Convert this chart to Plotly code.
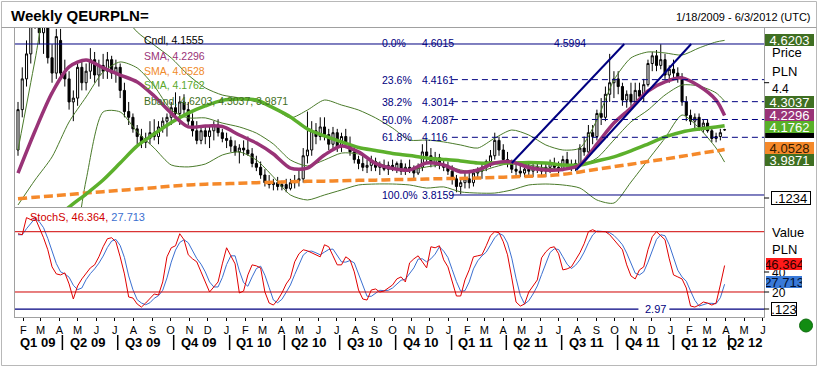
import plotly.graph_objects as go
import pandas as pd

W, H = 821, 371
FONT = "Liberation Sans, Arial, sans-serif"

# ---------------- data ----------------
first_week = "2009-01-23"
range_start, range_end = "2009-01-18", "2012-06-03"

opens = [4.05,4.26,4.42,4.55,4.72,4.78,4.66,4.70,4.53,4.45, 4.62,4.45,4.42,4.30, 4.32,4.48,4.40,4.46,4.52, 4.44,4.49,4.46,4.52, 4.45,4.48,4.36,4.25,4.22, 4.16,4.12,4.09,4.11, 4.14,4.12,4.17,4.20, 4.22,4.27,4.24,4.30,4.26, 4.20,4.15,4.10,4.15, 4.12,4.15,4.18,4.14,
         4.11,4.10,4.07,4.04,4.06, 4.05,4.03,3.98,3.96, 3.92,3.88,3.87,3.88, 3.86,3.87,3.85,3.88,3.89, 3.90,4.02,4.05,4.15, 4.12,4.17,4.13,4.08, 4.14,4.07,4.12,4.08,4.04, 4.00,3.98,3.96,3.97, 3.99,3.96,3.97,3.95, 3.97,3.95,3.98,3.94,3.96, 3.95,3.93,3.96,4.04, 4.02,3.98,4.01,3.97,3.96,
         3.94,3.90,3.86,3.88, 3.90,3.88,3.93,3.94, 3.96,3.99,4.02,4.10, 4.05,4.00,3.98,3.95,3.94, 3.93,3.95,3.94,3.96, 3.95,3.94,3.96,3.98, 3.96,3.95,4.00,3.97,3.96, 3.98,4.06,4.04,4.14, 4.12,4.24,4.22,4.34,4.40, 4.42,4.38,4.31,4.34, 4.30,4.36,4.33,4.39, 4.50,4.54,4.49,4.52,4.44,
         4.47,4.45,4.43,4.30, 4.23,4.20,4.22,4.17, 4.19,4.15,4.11,4.12,4.155]
highs = [4.30,4.48,4.62,4.80,4.93,4.80,4.75,4.72,4.60,4.68, 4.68,4.52,4.46,4.36, 4.50,4.52,4.50,4.58,4.56, 4.52,4.55,4.56,4.54, 4.52,4.50,4.40,4.30,4.24, 4.18,4.16,4.14,4.20, 4.21,4.20,4.22,4.24, 4.30,4.35,4.33,4.34,4.30, 4.24,4.20,4.18,4.17, 4.18,4.20,4.21,4.16,
         4.14,4.12,4.10,4.08,4.10, 4.12,4.06,4.02,3.99, 3.95,3.92,3.90,3.91, 3.89,3.90,3.90,3.92,3.95, 4.06,4.25,4.20,4.19, 4.22,4.22,4.16,4.17, 4.16,4.14,4.16,4.12,4.07, 4.02,4.02,4.00,4.02, 4.01,3.99,4.00,3.99, 4.00,3.99,4.00,3.98,4.00, 3.97,3.98,4.08,4.10, 4.06,4.04,4.03,4.00,3.99,
         3.97,3.92,3.90,3.93, 3.94,3.95,3.96,3.98, 4.00,4.05,4.14,4.12, 4.08,4.04,4.00,3.98,3.97, 3.97,3.99,3.98,3.99, 3.98,3.98,4.00,4.01, 3.99,4.02,4.04,4.00,4.00, 4.08,4.12,4.18,4.18, 4.26,4.32,4.38,4.55,4.46, 4.46,4.40,4.36,4.40, 4.40,4.40,4.42,4.52, 4.56,4.57,4.60,4.55,4.49,
         4.52,4.48,4.45,4.33, 4.26,4.24,4.24,4.21, 4.21,4.16,4.14,4.16,4.16]
lows = [4.02,4.22,4.38,4.50,4.68,4.60,4.55,4.50,4.40,4.42, 4.42,4.38,4.26,4.20, 4.28,4.36,4.36,4.42,4.40, 4.38,4.42,4.42,4.42, 4.40,4.32,4.22,4.18,4.14, 4.08,4.06,4.06,4.08, 4.10,4.08,4.14,4.12, 4.18,4.22,4.18,4.22,4.18, 4.12,4.08,4.08,4.08, 4.06,4.10,4.12,4.09,
        4.06,4.04,4.02,3.98,4.02, 4.02,3.96,3.94,3.90, 3.86,3.85,3.84,3.84, 3.84,3.83,3.84,3.85,3.86, 3.88,3.98,4.02,4.08, 4.10,4.10,4.05,4.06, 4.04,4.04,4.06,4.02,3.98, 3.95,3.94,3.93,3.94, 3.94,3.92,3.94,3.92, 3.94,3.93,3.92,3.92,3.93, 3.90,3.92,3.94,3.98, 3.96,3.96,3.95,3.94,3.92,
        3.87,3.83,3.82,3.85, 3.85,3.86,3.90,3.90, 3.94,3.96,4.00,4.02, 3.98,3.96,3.93,3.92,3.91, 3.91,3.92,3.91,3.93, 3.92,3.91,3.93,3.94, 3.93,3.94,3.95,3.94,3.94, 3.96,4.02,4.02,4.08, 4.10,4.18,4.20,4.30,4.32, 4.34,4.28,4.27,4.28, 4.28,4.31,4.30,4.38, 4.46,4.46,4.47,4.42,4.40,
        4.42,4.40,4.28,4.20, 4.18,4.16,4.15,4.14, 4.14,4.09,4.09,4.10,4.15]
closes = [4.26,4.42,4.55,4.72,4.78,4.66,4.70,4.53,4.45,4.64, 4.45,4.42,4.30,4.32, 4.48,4.40,4.46,4.52,4.44, 4.49,4.46,4.52,4.45, 4.48,4.36,4.25,4.22,4.16, 4.12,4.09,4.11,4.14, 4.12,4.17,4.20,4.22, 4.27,4.24,4.30,4.26,4.20, 4.15,4.10,4.15,4.12, 4.15,4.18,4.14,4.11,
          4.10,4.07,4.04,4.06,4.05, 4.03,3.98,3.96,3.92, 3.88,3.87,3.88,3.86, 3.87,3.85,3.88,3.89,3.90, 4.02,4.05,4.15,4.12, 4.17,4.13,4.08,4.14, 4.07,4.12,4.08,4.04,4.00, 3.98,3.96,3.97,3.99, 3.96,3.97,3.95,3.97, 3.95,3.98,3.94,3.96,3.95, 3.93,3.96,4.04,4.02, 3.98,4.01,3.97,3.96,3.94,
          3.90,3.86,3.88,3.90, 3.88,3.93,3.94,3.96, 3.99,4.02,4.10,4.05, 4.00,3.98,3.95,3.94,3.93, 3.95,3.94,3.96,3.95, 3.94,3.96,3.98,3.96, 3.95,4.00,3.97,3.96,3.98, 4.06,4.04,4.14,4.12, 4.24,4.22,4.34,4.40,4.42, 4.38,4.31,4.34,4.30, 4.36,4.33,4.39,4.50, 4.54,4.49,4.52,4.44,4.47,
          4.45,4.43,4.30,4.23, 4.20,4.22,4.17,4.19, 4.15,4.11,4.12,4.14,4.1555]

stoch_k = [78,77,94,92,94,84,74,62,45,38, 37,39,28,13,26,33,38,44,47,55, 65,73,74,70,55,38,15,14,8,5,
           9,14,18,17,30,55,64,66,78,72, 57,53,50,40,30,20,25,30,48,64, 56,48,19,21,37,47,46,44,20,9,
           7,12,19,28,34,50,58,62,61,59, 57,55,67,65,56,47,47,55,52,40, 22,13,12,22,23,20,21,24,27,33,
           35,30,49,53,56,50,44,65,64,66, 52,45,30,16,16,32,42,55,56,57, 66,76,80,79,70,57,34,10,6,8,
           20,26,32,54,60,64,65,58,42,43, 45,52,59,68,80,82,80,80,80,77, 72,67,62,47,36,33,42,45,62,75,
           80,76,72,53,37,35,33,24,6,5, 7,10,9,7,9,27,46.364]
stoch_d = [77,77,83,87.7,93.3,90,84,73.3,60.3,48.3, 40,38,34.7,26.7,22.3,24,32.3,38.3,43,48.7,
           55.7,64.3,70.7,72.3,66.3,54.3,36,22.3,12.3,9, 7.3,9.3,13.7,16.3,21.7,34,49.7,61.7,69.3,72,
           69,60.7,53.3,47.7,40,30,25,25,34.3,47.3, 56,56,41,29.3,25.7,35,43.3,45.7,36.7,24.3,
           12,9.3,12.7,19.7,27,37.3,47.3,56.7,60.3,60.7, 59,57,59.7,62.3,62.7,56,50,49.7,51.3,49,
           38,25,15.7,15.7,19,21.7,21.3,21.7,24,28, 31.7,32.7,38,44,52.7,53,50,53,57.7,65,
           60.7,54.3,42.3,30.3,20.7,21.3,30,43,51,56, 59.7,66.3,74,78.3,76.3,68.7,53.7,33.7,16.7,8,
           11.3,18,26,37.3,48.7,59.3,63,62.3,55,47.7, 43.3,46.7,52,59.7,69,76.7,80.7,80.7,80,79,
           76.3,72,67,58.7,48.3,38.7,37,40,49.7,60.7, 72.3,77,76,67,54,41.7,35,30.7,21,11.7,
           6,7.3,8.7,8.7,8.3,14.3,27.713]

# indicator lines read every 4th week (plus the last week)
sma_purple = [3.930,4.149,4.347,4.482,4.518,4.477,4.440,4.404,4.331,4.242, 4.170,4.175,4.172,4.128,4.086,4.029,3.956,3.956,4.024,4.071,
              4.040,3.980,3.954,3.946,3.982,3.972,3.936,3.946,3.982,3.988, 3.959,3.946,3.949,3.972,4.081,4.190,4.269,4.357,4.404,4.425,
              4.383,4.310,4.2296]
sma_green = [3.540,3.608,3.675,3.753,3.821,3.894,3.982,4.071,4.133,4.193, 4.242,4.279,4.308,4.315,4.310,4.269,4.222,4.159,4.123,4.092,
             4.063,4.047,4.032,4.021,4.008,4.001,3.993,3.982,3.982,3.982, 3.985,3.982,3.972,3.972,3.993,4.014,4.045,4.081,4.118,4.144,
             4.159,4.170,4.1762]
sma_orange = [3.796,3.804,3.811,3.818,3.826,3.833,3.840,3.847,3.854,3.862, 3.868,3.872,3.874,3.877,3.880,3.882,3.885,3.887,3.888,3.890,
              3.892,3.893,3.896,3.897,3.899,3.901,3.902,3.904,3.907,3.910, 3.913,3.916,3.923,3.936,3.950,3.963,3.976,3.990,4.003,4.017,
              4.032,4.045,4.0528]
bb_upper = [4.050,4.518,4.987,5.143,5.143,4.987,4.778,4.664,4.596,4.529, 4.440,4.373,4.336,4.321,4.300,4.269,4.217,4.258,4.310,4.284,
            4.258,4.217,4.164,4.102,4.102,4.092,4.076,4.060,4.112,4.154, 4.128,4.076,4.050,4.060,4.206,4.414,4.529,4.560,4.555,4.544,
            4.581,4.612,4.6203]
bb_mid = [3.764,3.894,4.014,4.196,4.326,4.456,4.508,4.477,4.383,4.258, 4.217,4.217,4.190,4.170,4.138,4.081,3.998,3.967,3.998,4.034,
          4.029,3.988,3.956,3.946,3.962,3.972,3.946,3.936,3.962,3.982, 3.972,3.956,3.951,3.967,4.008,4.102,4.196,4.258,4.336,4.388,
          4.383,4.347,4.3037]
bb_lower = [3.478,3.270,3.113,3.374,3.894,4.248,4.248,4.144,4.060,3.972, 3.962,3.977,4.024,4.040,3.998,3.910,3.816,3.790,3.816,3.842,
            3.868,3.873,3.873,3.868,3.852,3.858,3.832,3.826,3.826,3.842, 3.868,3.873,3.868,3.852,3.790,3.774,3.883,3.998,4.112,4.232,
            4.164,4.060,3.9871]

fib_pct = ["0.0%", "23.6%", "38.2%", "50.0%", "61.8%", "100.0%"]
fib_val = [4.6015, 4.4161, 4.3014, 4.2087, 4.116, 3.8159]
fib_txt = ["4.6015", "4.4161", "4.3014", "4.2087", "4.116", "3.8159"]

trend1_dates, trend1_vals = ["2011-04-15", "2011-10-17"], [3.982, 4.6015]
trend2_dates, trend2_vals = ["2011-07-30", "2012-02-04"], [3.946, 4.6015]

stoch_levels = [80, 20]
stoch_min = 2.97

month_letters = "FMAMJJASOND" + "JFMAMJJASOND" * 2 + "JFMAMJ"
quarter_names = ["Q1 09", "Q2 09", "Q3 09", "Q4 09", "Q1 10", "Q2 10", "Q3 10", "Q4 10",
                 "Q1 11", "Q2 11", "Q3 11", "Q4 11", "Q1 12", "Q2 12"]

legend_items = [("Cndl, 4.1555", "#000000"), ("SMA, 4.2296", "#993377"), ("SMA, 4.0528", "#f08a2a"),
                ("SMA, 4.1762", "#5aa82a"), ("Bband, 4.6203, 4.3037, 3.9871", "#3f6f22")]

# ---------------- helpers ----------------
def fx(px):
    return px / W

def fy(py):
    return 1 - py / H

dates = pd.date_range(first_week, periods=len(closes), freq="7D")
sample_idx = list(range(0, len(closes), 4))
if sample_idx[-1] != len(closes) - 1:
    sample_idx.append(len(closes) - 1)
sample_dates = dates[sample_idx]
month_starts = pd.date_range("2009-02-01", periods=len(month_letters), freq="MS")
quarter_starts = pd.date_range("2009-01-01", periods=len(quarter_names) + 1, freq="QS")

fig = go.Figure()

fig.add_trace(go.Candlestick(
    x=dates, open=opens, high=highs, low=lows, close=closes, whiskerwidth=0,
    increasing=dict(line=dict(color="black", width=1), fillcolor="white"),
    decreasing=dict(line=dict(color="black", width=1), fillcolor="black"),
    xaxis="x", yaxis="y", hoverinfo="skip"))

for band in (bb_upper, bb_mid, bb_lower):
    fig.add_trace(go.Scatter(x=sample_dates, y=band, mode="lines",
                             line=dict(color="#4a7a2a", width=1, shape="spline", smoothing=0.7),
                             xaxis="x", yaxis="y", hoverinfo="skip"))

fig.add_trace(go.Scatter(x=sample_dates, y=sma_orange, mode="lines",
                         line=dict(color="#f5892a", width=3.5, dash="9px,4px", shape="spline"),
                         xaxis="x", yaxis="y", hoverinfo="skip"))
fig.add_trace(go.Scatter(x=sample_dates, y=sma_green, mode="lines",
                         line=dict(color="#5cb02c", width=3.5, shape="spline", smoothing=0.8),
                         xaxis="x", yaxis="y", hoverinfo="skip"))
fig.add_trace(go.Scatter(x=sample_dates, y=sma_purple, mode="lines",
                         line=dict(color="#993377", width=3.5, shape="spline", smoothing=0.8),
                         xaxis="x", yaxis="y", hoverinfo="skip"))
for tx, ty in ((trend1_dates, trend1_vals), (trend2_dates, trend2_vals)):
    fig.add_trace(go.Scatter(x=tx, y=ty, mode="lines", line=dict(color="#000080", width=2),
                             xaxis="x", yaxis="y", hoverinfo="skip"))

fig.add_trace(go.Scatter(x=dates, y=stoch_d, mode="lines", line=dict(color="#3b6fd0", width=1),
                         xaxis="x2", yaxis="y2", hoverinfo="skip"))
fig.add_trace(go.Scatter(x=dates, y=stoch_k, mode="lines", line=dict(color="#e00000", width=1),
                         xaxis="x2", yaxis="y2", hoverinfo="skip"))

GRAY = "#a0a0a0"
shapes = []
# outer frame and title separator
shapes.append(dict(type="rect", xref="paper", yref="paper", x0=fx(1.5), x1=fx(818.5), y0=fy(365.5), y1=fy(1.5),
                   line=dict(color="#b8b8b8", width=1)))
shapes.append(dict(type="line", xref="paper", yref="paper", x0=fx(1.5), x1=fx(818.5), y0=fy(27.5), y1=fy(27.5),
                   line=dict(color=GRAY, width=1)))
# fibonacci levels
for i, v in enumerate(fib_val):
    if i == 0:
        x0, dash = 15, "solid"
    elif i == len(fib_val) - 1:
        x0, dash = 453, "solid"
    else:
        x0, dash = 453, "6px,4px"
    shapes.append(dict(type="line", xref="paper", yref="y", x0=fx(x0), x1=fx(766), y0=v, y1=v,
                       line=dict(color="#000080", width=1, dash=dash)))
# stochastic levels
for lv in stoch_levels:
    shapes.append(dict(type="line", xref="paper", yref="y2", x0=fx(15), x1=fx(766), y0=lv, y1=lv,
                       line=dict(color="#d00000", width=1)))
for a, b in ((15, 640), (671, 766)):
    shapes.append(dict(type="line", xref="paper", yref="y2", x0=fx(a), x1=fx(b), y0=stoch_min, y1=stoch_min,
                       line=dict(color="#000080", width=1.2)))
# quarter separators
for qs in quarter_starts[1:len(quarter_names)]:
    xd = qs + pd.Timedelta(days=5)
    shapes.append(dict(type="line", xref="x", yref="paper", x0=xd, x1=xd, y0=fy(350), y1=fy(335),
                       line=dict(color="black", width=1.5)))
# right-side tick marks
for yy in (82.7, 198, 272, 292, 309):
    shapes.append(dict(type="line", xref="paper", yref="paper", x0=fx(766), x1=fx(771), y0=fy(yy), y1=fy(yy),
                       line=dict(color="black", width=1)))
# hidden candle value box (only its lower edge shows below the green box)
shapes.append(dict(type="rect", xref="paper", yref="paper", x0=fx(767), x1=fx(816), y0=fy(138), y1=fy(126),
                   fillcolor="black", line=dict(width=0), layer="above"))
# status dot
shapes.append(dict(type="circle", xref="paper", yref="paper", x0=fx(801.5), x1=fx(814.5), y0=fy(332), y1=fy(319),
                   fillcolor="#128c12", line=dict(color="#0b6a0b", width=1)))

ann = []
def text(x, y, s, color="black", size=11, anchor="left", bold=False, **kw):
    ann.append(dict(x=fx(x), y=fy(y), xref="paper", yref="paper", text=f"<b>{s}</b>" if bold else s,
                    showarrow=False, xanchor=anchor, yanchor="middle",
                    font=dict(family=FONT, size=size, color=color), **kw))

def box(y, s, bg, fg, x0=767, w=49, h=12, size=13, border=None):
    ann.append(dict(x=fx(x0), y=fy(y), xref="paper", yref="paper", text=s, showarrow=False,
                    xanchor="left", yanchor="middle", width=w, height=h, bgcolor=bg, borderpad=0,
                    bordercolor=border or bg, borderwidth=1 if border else 0, align="center",
                    font=dict(family=FONT, size=size, color=fg)))

text(9, 15, "Weekly QEURPLN=", size=15, bold=True)
text(815, 17, "1/18/2009 - 6/3/2012 (UTC)", anchor="right", size=11)
for k, (s, c) in enumerate(legend_items):
    text(142, 40.5 + 15 * k, s, color=c, size=10.5)
fib_y = [43.5, 80, 102, 119.5, 137, 195]
for p, t, yy in zip(fib_pct, fib_txt, fib_y):
    text(381, yy, p, color="#000080", size=10.5)
    text(421, yy, t, color="#000080", size=10.5)
text(553, 43.5, "4.5994", color="#000080", size=10.5)

# price axis labels
box(40, "4.6203", "#3f6f22", "white")
text(772, 53, "Price", size=13)
text(772, 71.5, "PLN", size=13)
text(772, 88.5, "4.4", size=12)
box(102, "4.3037", "#3f6f22", "white")
box(114.5, "4.2296", "#993377", "white")
box(126.5, "4.1762", "#58b028", "white")
box(147.5, "4.0528", "#f5892a", "#301800")
box(159.5, "3.9871", "#3f6f22", "white")
box(198.5, ".1234", "white", "black", x0=773, w=38, h=12, border="black")

# stochastic labels
text(28, 217.5, "<span style='color:#d00000'>StochS, 46.364,</span> <span style='color:#3b6fd0'>27.713</span>", size=11)
text(645, 309, "2.97", color="#000080", size=11)
text(772, 232.5, "Value", size=13)
text(772, 249, "PLN", size=13)
text(772, 272.5, "40", size=12)
text(772, 293, "20", size=12)
box(264, "46.364", "#ff1a1a", "#300000", x0=768, w=36)
box(281.5, "27.713", "#3a7ad8", "#001030", x0=768, w=36)
box(309, ".123", "white", "black", x0=773, w=24, h=12, border="black")

# quarter labels
rs, re_ = pd.Timestamp(range_start), pd.Timestamp(range_end)
for q, name in enumerate(quarter_names):
    s = max(quarter_starts[q], rs)
    e = min(quarter_starts[q + 1], re_)
    c = s + (e - s) / 2
    ann.append(dict(x=c, y=fy(342.5), xref="x", yref="paper", text=f"<b>{name}</b>", showarrow=False,
                    xanchor="center", yanchor="middle", font=dict(family=FONT, size=13, color="black")))

axis_common = dict(showgrid=False, zeroline=False, showline=True, mirror=True, linecolor=GRAY, linewidth=1)
fig.update_layout(
    width=W, height=H, autosize=False, margin=dict(l=0, r=0, t=0, b=0),
    paper_bgcolor="white", plot_bgcolor="white", showlegend=False, hovermode=False,
    xaxis=dict(domain=[fx(15), fx(766)], range=[range_start, range_end], type="date", anchor="y",
               showticklabels=False, ticks="", rangeslider=dict(visible=False), **axis_common),
    yaxis=dict(domain=[fy(207), fy(28)], range=[3.7534, 4.6847], showticklabels=False, ticks="",
               anchor="x", **axis_common),
    xaxis2=dict(domain=[fx(15), fx(766)], matches="x", type="date", anchor="y2",
                tickmode="array", tickvals=list(month_starts), ticktext=list(month_letters),
                ticks="outside", ticklen=3, tickcolor="black",
                tickfont=dict(family=FONT, size=11, color="black"), **axis_common),
    yaxis2=dict(domain=[fy(317), fy(208)], range=[-4.9, 103.6], showticklabels=False, ticks="",
                anchor="x2", **axis_common),
    shapes=shapes, annotations=ann,
)

fig.write_html("out.html", config={"displayModeBar": False},
               post_script="document.body.style.margin='0px';document.body.style.overflow='hidden';")
